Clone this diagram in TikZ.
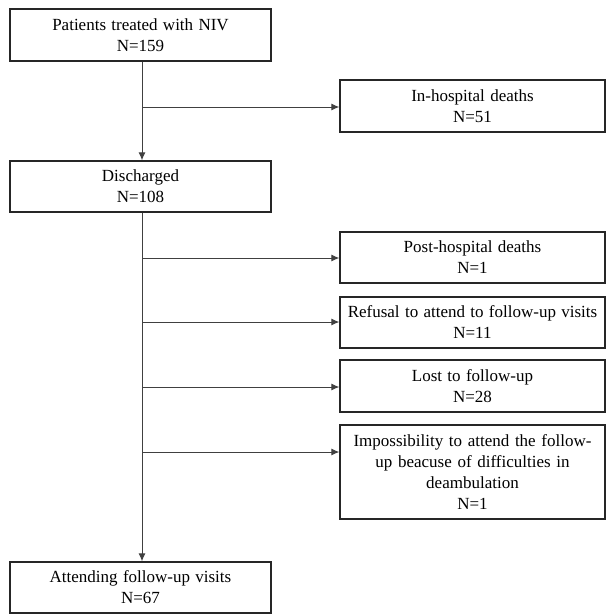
\documentclass[tikz,border=0pt]{standalone}
\usepackage{fontspec}
\setmainfont{Liberation Serif}[WordSpace={1.25}]
\usetikzlibrary{arrows.meta}
\begin{document}
\begin{tikzpicture}[x=1pt,y=-1pt,
  box/.style={draw=black!85, line width=1.3pt, inner sep=0pt, align=center,
    font=\fontsize{17}{21}\selectfont},
  conn/.style={draw=black!75, line width=1pt},
  arr/.style={conn, -{Latex[length=8pt,width=7pt]}}]
\useasboundingbox (0,0) rectangle (607,614);
\fill[white] (0,0) rectangle (607,614);
% left column
\node[box, minimum width=261pt, minimum height=52pt] (p) at (140.5,35) {Patients treated with NIV\\N=159};
\node[box, minimum width=261pt, minimum height=51pt] (d) at (140.5,186.5) {Discharged\\N=108};
\node[box, minimum width=261pt, minimum height=51pt] (f) at (140.5,587.5) {Attending follow-up visits\\N=67};
% right column
\node[box, minimum width=265pt, minimum height=52pt] (ih) at (472.5,106) {In-hospital deaths\\N=51};
\node[box, minimum width=265pt, minimum height=51pt] (ph) at (472.5,257.5) {Post-hospital deaths\\N=1};
\node[box, minimum width=265pt, minimum height=51pt] (rf) at (472.5,322.5) {Refusal to attend to follow-up visits\\N=11};
\node[box, minimum width=265pt, minimum height=52pt] (lf) at (472.5,386) {Lost to follow-up\\N=28};
\node[box, minimum width=265pt, minimum height=94pt, text width=255pt] (im) at (472.5,472) {Impossibility to attend the follow-\\up beacuse of difficulties in\\deambulation\\N=1};
% coordinates on trunk
\coordinate (b1) at (142,107);
\coordinate (b2) at (142,258);
\coordinate (b3) at (142,322);
\coordinate (b4) at (142,387);
\coordinate (b5) at (142,452);
% connectors
\draw[arr] (p.south -| b1) -- (d.north -| b1);
\draw[arr] (b1) -- (b1 -| ih.west);
\draw[arr] (d.south -| b2) -- (f.north -| b2);
\draw[arr] (b2) -- (b2 -| ph.west);
\draw[arr] (b3) -- (b3 -| rf.west);
\draw[arr] (b4) -- (b4 -| lf.west);
\draw[arr] (b5) -- (b5 -| im.west);
\end{tikzpicture}
\end{document}
